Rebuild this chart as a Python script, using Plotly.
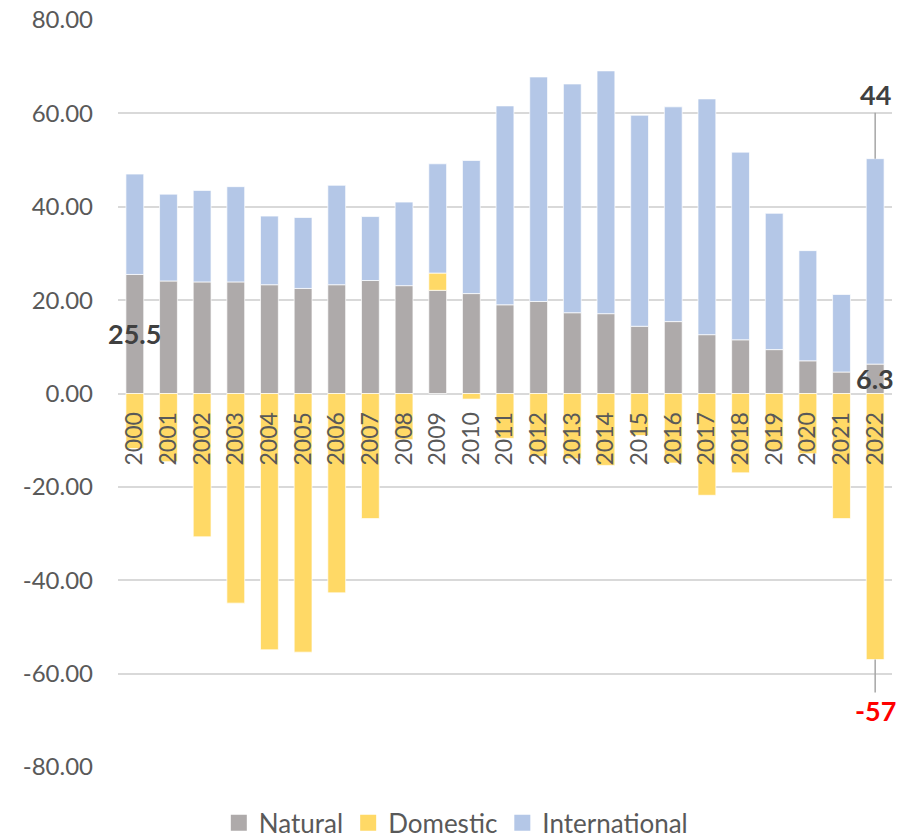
import plotly.graph_objects as go

years = list(range(2000, 2023))

natural = [25.5, 24.1, 23.9, 23.9, 23.3, 22.5, 23.3, 24.2, 23.1, 22.1, 21.4, 19.0,
           19.7, 17.3, 17.1, 14.4, 15.4, 12.6, 11.5, 9.4, 7.0, 4.6, 6.3]
domestic = [-11.8, -14.6, -30.7, -44.9, -54.9, -55.4, -42.7, -26.8, -9.9, 3.7, -1.2, -9.6,
            -13.5, -14.0, -15.4, -9.0, -14.9, -21.8, -17.0, -12.1, -12.9, -26.8, -57.0]
international = [21.5, 18.6, 19.6, 20.4, 14.7, 15.2, 21.3, 13.7, 17.9, 23.4, 28.5, 42.6,
                 48.1, 49.0, 52.0, 45.2, 46.0, 50.5, 40.2, 29.2, 23.6, 16.6, 44.0]

y_ticks = [80, 60, 40, 20, 0, -20, -40, -60, -80]
y_tick_text = [f"{v:.2f}" for v in y_ticks]  # plain hyphen for negatives

FONT = "Lato"
TEXT = "#595959"
DARK = "#404040"

series = [
    ("Natural", natural, "#AEAAAA"),
    ("Domestic", domestic, "#FFD966"),
    ("International", international, "#B4C7E7"),
]

fig = go.Figure()
for name, vals, color in series:
    fig.add_trace(go.Bar(
        x=years, y=vals, name=name, showlegend=False,
        marker=dict(color=color, line=dict(color="rgba(255,255,255,0.7)", width=1)),
    ))
# legend keys drawn as larger squares
for name, _, color in series:
    fig.add_trace(go.Scatter(
        x=[None], y=[None], mode="markers", name=name,
        marker=dict(symbol="square", size=16, color=color),
    ))

last = years[-1]
total_last = natural[-1] + international[-1]

# value callouts
fig.add_annotation(x=years[0], y=natural[0] / 2, text=f"<b>{natural[0]:.1f}</b>",
                   showarrow=False, font=dict(family=FONT, size=27, color=DARK))
fig.add_annotation(x=last, y=natural[-1] / 2, text=f"<b>{natural[-1]:.1f}</b>",
                   showarrow=False, font=dict(family=FONT, size=27, color=DARK))
fig.add_annotation(x=last, y=total_last, text=f"<b>{international[-1]:.0f}</b>",
                   showarrow=True, arrowhead=0, arrowwidth=1.5, arrowcolor="#A6A6A6",
                   ax=0, ay=-64, standoff=0,
                   font=dict(family=FONT, size=27, color=DARK))
fig.add_annotation(x=last, y=domestic[-1], text=f"<b>{domestic[-1]:.0f}</b>",
                   showarrow=True, arrowhead=0, arrowwidth=1.5, arrowcolor="#A6A6A6",
                   ax=0, ay=51, standoff=0,
                   font=dict(family=FONT, size=27, color="#FF0000"))

fig.update_layout(
    barmode="relative",
    bargap=0.47,
    width=908, height=838,
    margin=dict(l=118, r=16, t=20, b=71, autoexpand=False),
    paper_bgcolor="white", plot_bgcolor="white",
    font=dict(family=FONT, color=TEXT),
    showlegend=True,
    legend=dict(orientation="h", xref="container", yref="container",
                x=0.502, xanchor="center", y=0.018, yanchor="middle",
                font=dict(family=FONT, size=26, color=TEXT), itemwidth=30,
                traceorder="normal"),
)
fig.update_yaxes(
    range=[-80, 80], tickvals=y_ticks, ticktext=y_tick_text, automargin=False,
    showgrid=True, gridcolor="#D9D9D9", gridwidth=1.5,
    zeroline=True, zerolinecolor="#D9D9D9", zerolinewidth=1.5,
    showline=False, ticks="", ticklabelstandoff=24,
    tickfont=dict(family=FONT, size=24, color=TEXT),
)
fig.update_xaxes(
    range=[years[0] - 0.5, years[-1] + 0.5], tickvals=years, automargin=False,
    anchor="free", position=0.5,
    showline=False, showgrid=False, zeroline=False, ticks="", tickangle=-90,
    ticklabelstandoff=13,
    tickfont=dict(family=FONT, size=23, color=TEXT),
)

fig.write_html("out.html")
